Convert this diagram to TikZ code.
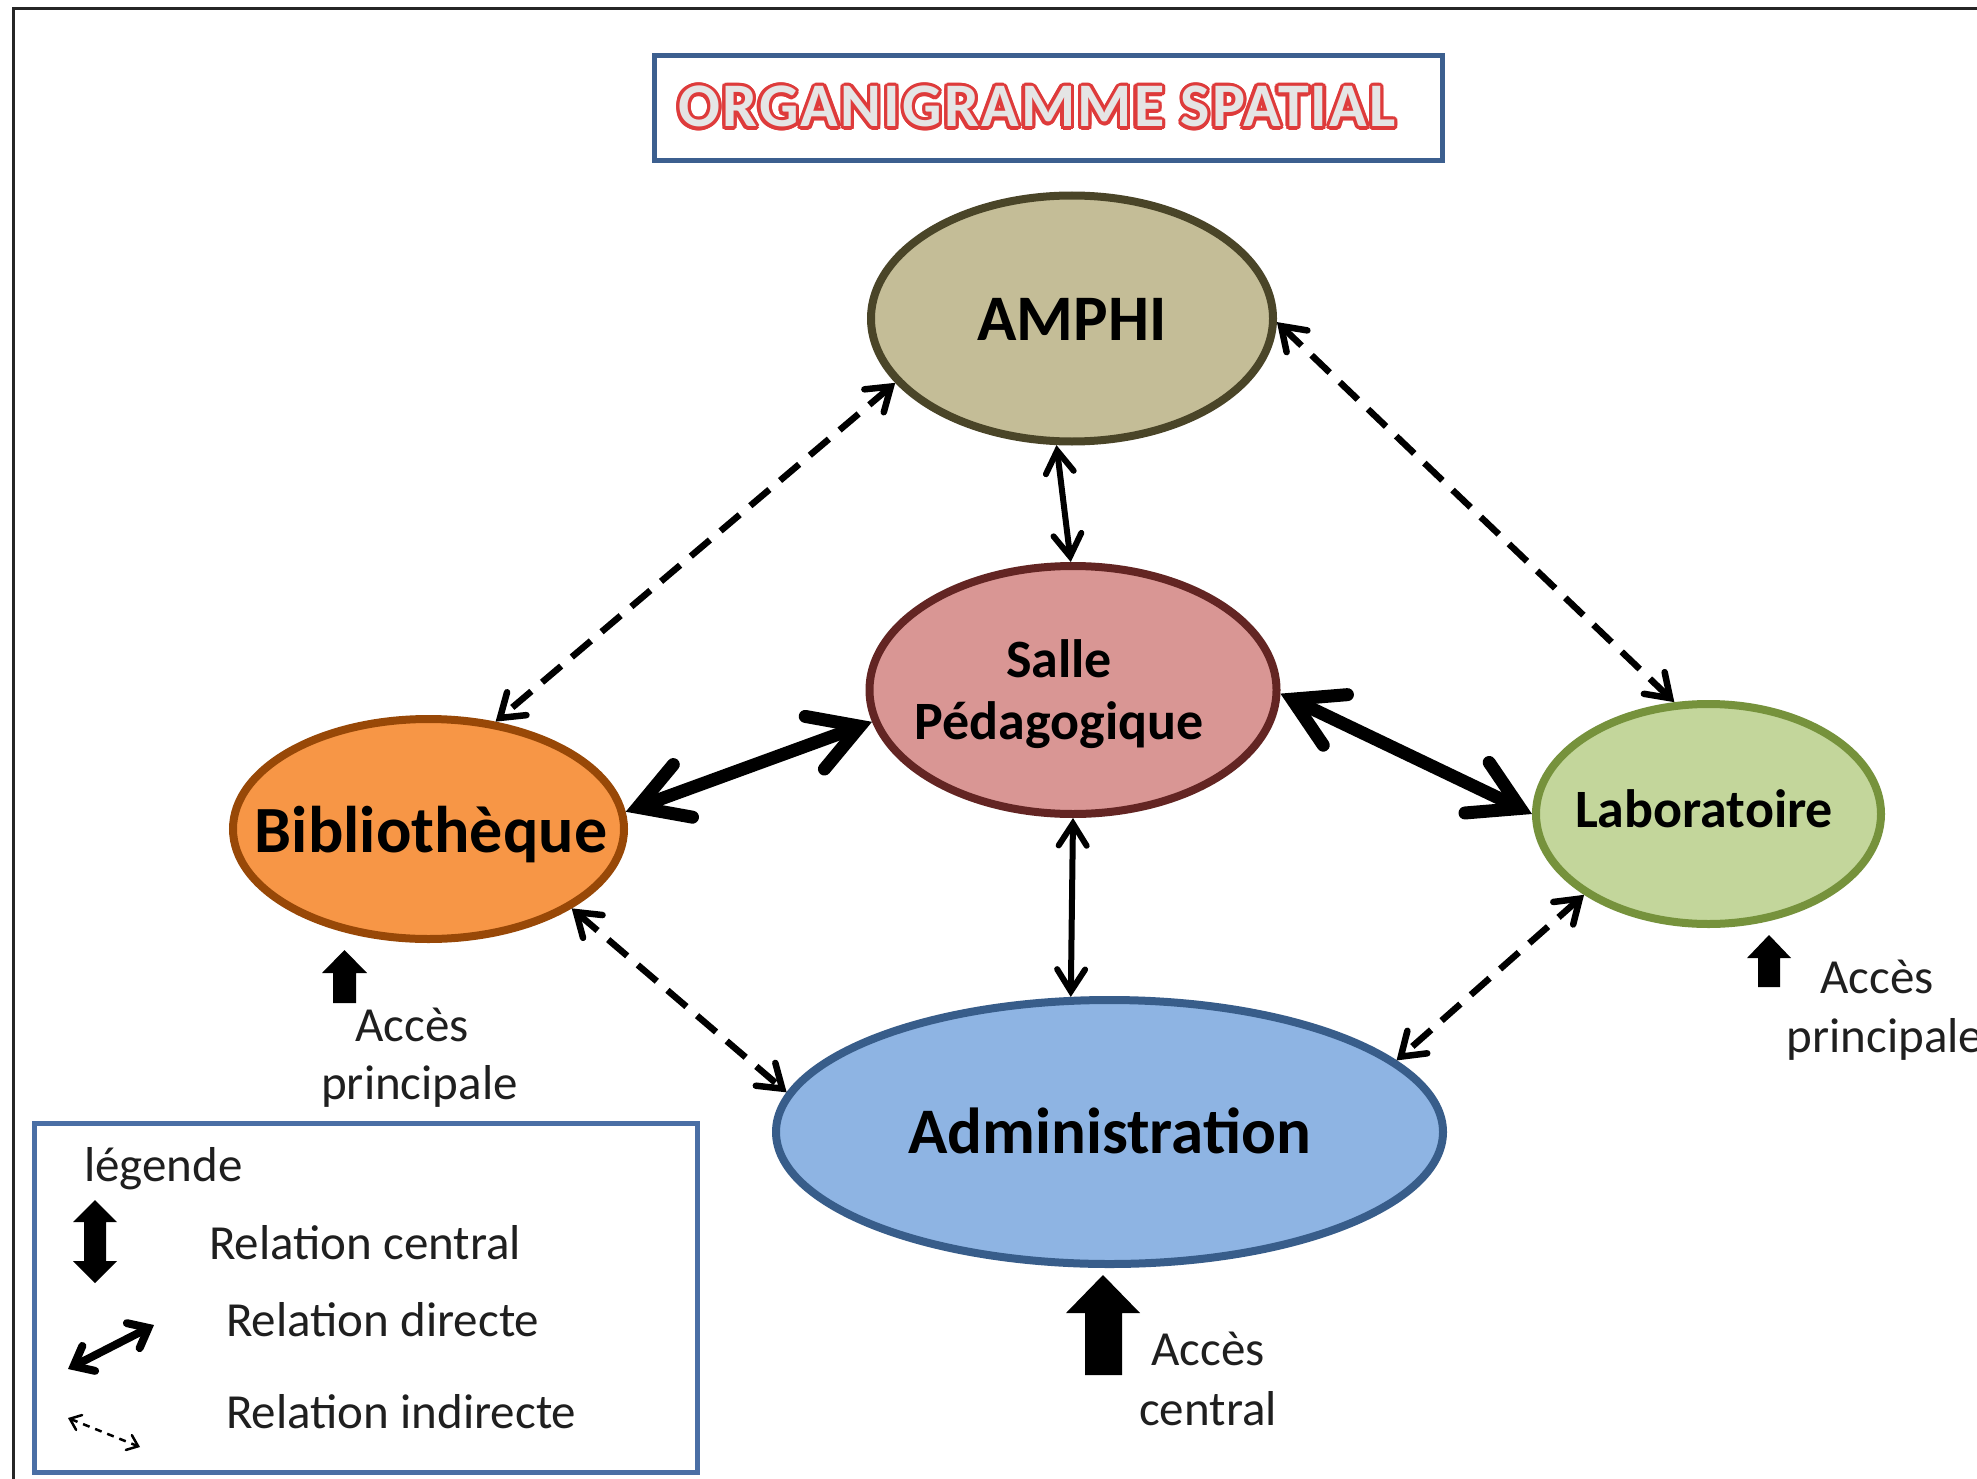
\documentclass[tikz,border=0pt]{standalone}
\usepackage{fontspec}
\setmainfont{Carlito}
\newfontfamily\titlefont[LetterSpace=3.6]{Carlito}
\usetikzlibrary{shapes.geometric,arrows.meta,calc}

\definecolor{amphifill}{HTML}{C4BD97}
\definecolor{amphiline}{HTML}{4A4528}
\definecolor{sallefill}{HTML}{D99694}
\definecolor{salleline}{HTML}{632523}
\definecolor{bibfill}{HTML}{F79646}
\definecolor{bibline}{HTML}{984807}
\definecolor{labofill}{HTML}{C3D69B}
\definecolor{laboline}{HTML}{76923C}
\definecolor{adminfill}{HTML}{8EB4E3}
\definecolor{adminline}{HTML}{385D8A}
\definecolor{boxblue}{HTML}{3C5F8F}
\definecolor{legblue}{HTML}{4A6FA5}
\definecolor{titlered}{HTML}{DE3B3B}

% hollow lettering: coloured copies around the text, light text on top
\newcommand\outlinedtext[4]{%
  \begingroup
  \setbox0=\hbox{#4}%
  \foreach \ang in {0,20,...,340}{%
    \pgfmathsetlengthmacro\odx{#3*cos(\ang)}%
    \pgfmathsetlengthmacro\ody{#3*sin(\ang)}%
    \rlap{\kern\odx\raise\ody\hbox{\color{#1}\copy0}}}%
  \hbox{\color{#2}\copy0}%
  \endgroup}

% centred label of zero size: horizontal shift, vertical shift, text
\newcommand\roomlabel[3]{\smash{\makebox[0pt]{\raisebox{#2}{\hspace*{#1}#3}}}}

\newcommand\roomfont[1]{\fontsize{#1pt}{#1pt}\selectfont\bfseries}
\newcommand\plainfont{\fontsize{49pt}{58pt}\selectfont}

\tikzset{
  room/.style={ellipse, line width=8pt, inner sep=0pt},
  central/.style={line width=6pt,
    >={Straight Barb[length=22pt,width=28pt,line cap=round,line join=miter]}, <->},
  direct/.style={line width=13pt,
    >={Straight Barb[length=48pt,width=56pt,line cap=round,line join=miter]}, <->},
  indirect/.style={line width=6.5pt, dash pattern=on 25pt off 14pt,
    >={Straight Barb[length=22pt,width=30pt,line cap=round,line join=miter]}, <->},
  legdirect/.style={line width=8pt,
    >={Straight Barb[length=17pt,width=28pt,line cap=round,line join=miter]}, <->},
  legindirect/.style={line width=2.5pt, dash pattern=on 7pt off 6pt,
    >={Straight Barb[length=10pt,width=16pt,line cap=round,line join=miter]}, <->},
  plain/.style={font=\plainfont, inner sep=0pt, text=black!88},
  boxframe/.style={rectangle, line width=5pt, inner sep=0pt}
}

\begin{document}
\begin{tikzpicture}[x=1pt,y=-1pt]
\useasboundingbox (0,0) rectangle (1977,1479);
\fill[white] (0,0) rectangle (1977,1479);

% page frame
\draw[line width=3pt, black!85] (13,1479) -- (13,9) -- (1977,9);

% title
\node[boxframe, draw=boxblue, minimum width=788pt, minimum height=105pt] (titlebox) at (1048.5,108)
  {\roomlabel{-23pt}{-19pt}{\outlinedtext{titlered}{gray!20}{3.2pt}{\fontsize{62pt}{62pt}\titlefont\bfseries ORGANIGRAMME SPATIAL}}};

% rooms
\node[room, fill=amphifill, draw=amphiline, minimum width=402pt, minimum height=246pt,
  font=\roomfont{65}] (amphi) at (1072,318.5) {\roomlabel{0pt}{-21.5pt}{AMPHI}};
\node[room, fill=sallefill, draw=salleline, minimum width=407pt, minimum height=248pt,
  font=\roomfont{54}] (salle) at (1073,690)
  {\roomlabel{-28pt}{-49pt}{\fontsize{54pt}{62pt}\selectfont\begin{tabular}[b]{@{}c@{}}Salle\\Pédagogique\end{tabular}}};
\node[room, fill=bibfill, draw=bibline, minimum width=391pt, minimum height=220pt,
  font=\roomfont{66}] (biblio) at (428.5,829) {\roomlabel{5pt}{-23pt}{Bibliothèque}};
\node[room, fill=labofill, draw=laboline, minimum width=345pt, minimum height=220pt,
  font=\roomfont{54}] (labo) at (1708.5,814) {\roomlabel{-9pt}{-13pt}{Laboratoire}};
\node[room, fill=adminfill, draw=adminline, minimum width=667pt, minimum height=264pt,
  font=\roomfont{65}] (admin) at (1109.5,1132) {\roomlabel{0pt}{-21pt}{Administration}};

% relations
\draw[central] (amphi.-97) -- (salle.91);
\draw[central] (salle.-90) -- (admin.106);
\draw[direct] (biblio.5) -- (salle.189);
\draw[direct] (salle.-1) -- (labo.180);
\draw[indirect] (amphi.-160) -- (biblio.58);
\draw[indirect] (amphi.-1) -- (labo.107);
\draw[indirect] (biblio.-29) -- (admin.173);
\draw[indirect] (labo.-147) -- (admin.14);

% entrances
\fill (333,1003) -- (333,973) -- (322,973) -- (344.5,950) -- (367,973) -- (356,973) -- (356,1003) -- cycle;
\node[plain, anchor=base] (bibacc) at (412,1041) {Accès};
\node[plain, anchor=base] (bibprinc) at (419.5,1099) {principale};

\fill (1758,987) -- (1758,958) -- (1747,958) -- (1769,935) -- (1791,958) -- (1780,958) -- (1780,987) -- cycle;
\node[plain, anchor=base] (laboacc) at (1877,993) {Accès};
\node[plain, anchor=base] (laboprinc) at (1885,1052) {principale};

\fill (1085,1375) -- (1085,1313) -- (1066,1313) -- (1103,1275) -- (1140,1313) -- (1122,1313) -- (1122,1375) -- cycle;
\node[plain, anchor=base] (adminacc) at (1208,1365) {Accès};
\node[plain, anchor=base] (admincentral) at (1208,1425) {central};

% legend
\node[boxframe, draw=legblue, minimum width=663pt, minimum height=349pt] (legendbox) at (366,1298) {};
\node[plain, anchor=base west] (legtitle) at (84,1181) {légende};
\fill (84,1222) -- (73,1222) -- (95,1200) -- (117,1222) -- (106,1222) -- (106,1261)
  -- (117,1261) -- (95,1283) -- (73,1261) -- (84,1261) -- cycle;
\node[plain, anchor=base west] (legcentral) at (209,1259) {Relation central};
\coordinate (ld1) at (68,1369);
\coordinate (ld2) at (154,1325);
\draw[legdirect] (ld1) -- (ld2);
\node[plain, anchor=base west] (legdirecte) at (226,1336) {Relation directe};
\coordinate (li1) at (68,1418);
\coordinate (li2) at (140,1447);
\draw[legindirect] (li1) -- (li2);
\node[plain, anchor=base west] (legindirecte) at (226,1428) {Relation indirecte};
\end{tikzpicture}
\end{document}
